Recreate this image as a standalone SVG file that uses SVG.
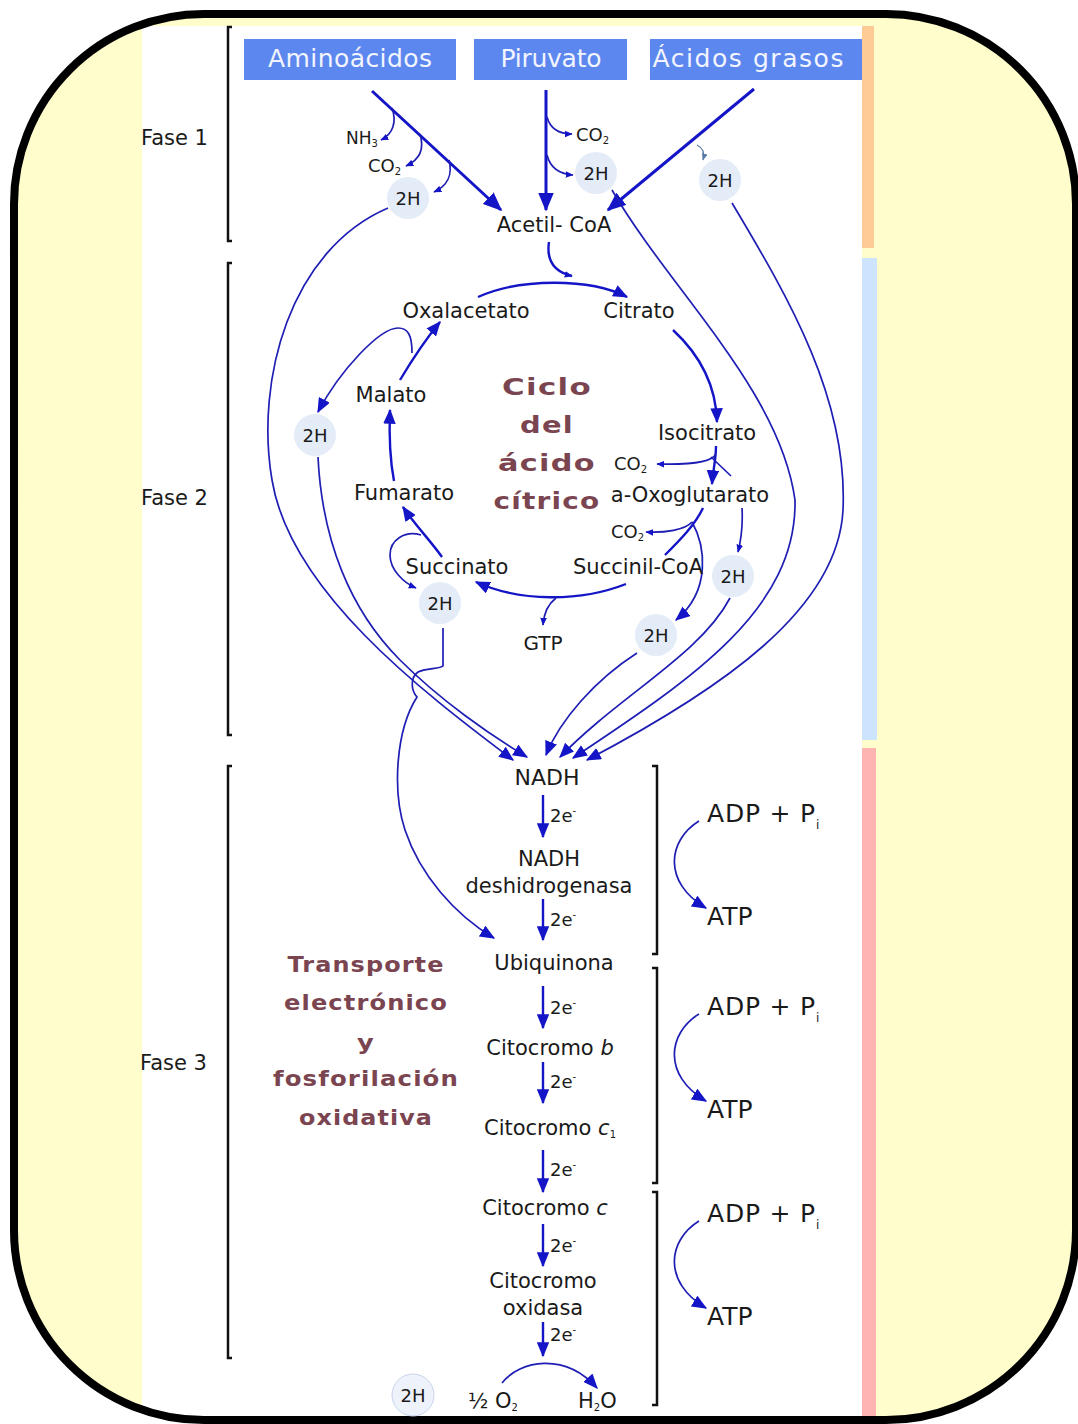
<svg xmlns="http://www.w3.org/2000/svg" width="1078" height="1424" viewBox="0 0 1078 1424">
<defs>
<style>
.lbl{font-family:"DejaVu Sans","Liberation Sans",sans-serif;font-size:21px;fill:#1a1a1a;text-anchor:middle}
.st{text-anchor:start}
.sm{font-size:18px}
.sub{font-size:10px}
.hdr{fill:#5c87ee}
.hdrt{font-family:"DejaVu Sans","Liberation Sans",sans-serif;font-size:25px;fill:#f2f5ff;text-anchor:middle}
.mar{font-family:"DejaVu Sans","Liberation Sans",sans-serif;font-weight:bold;fill:#7a4550;text-anchor:middle;letter-spacing:1px}
.hc{fill:#e4ecf8}
.thick{stroke:#1515c8;stroke-width:3;fill:none}
.mid{stroke:#1515c8;stroke-width:2.4;fill:none}
.thin{stroke:#1e1eb4;stroke-width:1.7;fill:none}
.brk{stroke:#111;stroke-width:2.5;fill:none}
</style>
<marker id="mBig" viewBox="0 0 12 10" refX="11" refY="5" markerWidth="19" markerHeight="16" markerUnits="userSpaceOnUse" orient="auto"><path d="M0,0 L12,5 L0,10 z" fill="#1515c8"/></marker>
<marker id="mMid" viewBox="0 0 12 10" refX="11" refY="5" markerWidth="15" markerHeight="12.5" markerUnits="userSpaceOnUse" orient="auto"><path d="M0,0 L12,5 L0,10 z" fill="#1515c8"/></marker>
<marker id="mSmall" viewBox="0 0 12 10" refX="11" refY="5" markerWidth="8" markerHeight="7" markerUnits="userSpaceOnUse" orient="auto"><path d="M0,0 L12,5 L0,10 z" fill="#1515c8"/></marker>
<marker id="mGrey" viewBox="0 0 12 10" refX="11" refY="5" markerWidth="7" markerHeight="6" markerUnits="userSpaceOnUse" orient="auto"><path d="M0,0 L12,5 L0,10 z" fill="#5a7aa8"/></marker>
</defs>

<!-- page, frame and panels -->
<rect x="0" y="0" width="1078" height="1424" fill="#ffffff"/>
<rect x="14" y="14" width="1062" height="1406" rx="190" ry="190" fill="#fefdcb"/>
<rect x="142" y="26" width="720" height="1398" fill="#ffffff"/>
<rect x="862" y="26" width="12" height="222" fill="#fecb96"/>
<rect x="862" y="258" width="15" height="482" fill="#cce4fe"/>
<rect x="862" y="748" width="14" height="676" fill="#feb4b0"/>
<rect x="14" y="14" width="1062" height="1406" rx="190" ry="190" fill="none" stroke="#000" stroke-width="8"/>

<!-- phase brackets -->
<g id="brackets">
<path class="brk" d="M232,27 L228,27 L228,241 L232,241"/>
<path class="brk" d="M232,263 L228,263 L228,735 L232,735"/>
<path class="brk" d="M232,766 L228,766 L228,1358 L232,1358"/>
<path class="brk" d="M652,766 L657,766 L657,954 L652,954"/>
<path class="brk" d="M652,968 L657,968 L657,1183 L652,1183"/>
<path class="brk" d="M652,1192 L657,1192 L657,1405 L652,1405"/>
</g>

<g id="phase-labels">
<text class="lbl st" x="141" y="145">Fase 1</text>
<text class="lbl st" x="141" y="505">Fase 2</text>
<text class="lbl st" x="140" y="1070">Fase 3</text>
</g>

<!-- sources -->
<g id="aminoacidos"><rect class="hdr" x="244" y="39" width="212" height="41"/><text class="hdrt" x="350" y="67" textLength="164">Aminoácidos</text></g>
<g id="piruvato"><rect class="hdr" x="474" y="39" width="153" height="41"/><text class="hdrt" x="551" y="67" textLength="101">Piruvato</text></g>
<g id="acidos-grasos"><rect class="hdr" x="650" y="39" width="212" height="41"/><text class="hdrt" x="748" y="67" textLength="191">Ácidos grasos</text></g>

<!-- connectors -->
<g id="connectors">
<!-- phase 1 -->
<path class="thick" d="M372,91 L501,210" marker-end="url(#mBig)"/>
<path class="thick" d="M546,90 L546,210" marker-end="url(#mBig)"/>
<path class="thick" d="M754,89 L608,210" marker-end="url(#mBig)"/>
<path class="thin" d="M392,108 C397,122 393,134 381,140" marker-end="url(#mSmall)"/>
<path class="thin" d="M420,134 C425,150 419,160 406,166" marker-end="url(#mSmall)"/>
<path class="thin" d="M449,160 C453,175 447,186 434,192" marker-end="url(#mSmall)"/>
<path class="thin" d="M547,117 C550,128 558,134 572,134" marker-end="url(#mSmall)"/>
<path class="thin" d="M547,155 C550,167 559,174 573,175" marker-end="url(#mSmall)"/>
<path d="M697,145 C703,148 705,153 703,160" stroke="#5a7aa8" stroke-width="1.2" fill="none" marker-end="url(#mGrey)"/>
<path class="mid" d="M549,242 C546,262 555,272 572,276" marker-end="url(#mSmall)"/>

<!-- citric acid cycle -->
<path class="mid" d="M478,297 C520,278 590,278 627,297" marker-end="url(#mMid)"/>
<path class="mid" d="M673,330 C700,355 716,385 717,422" marker-end="url(#mMid)"/>
<path class="mid" d="M716,446 C716,460 713,470 712,484" marker-end="url(#mMid)"/>
<path class="thin" d="M716,454 C712,462 690,465 657,464" marker-end="url(#mSmall)"/>
<path class="thin" d="M711,457 L731,476"/>
<path class="mid" d="M703,508 C695,525 680,540 665,555"/>
<path class="thin" d="M692,522 C685,530 665,533 646,532" marker-end="url(#mSmall)"/>
<path class="thin" d="M692,522 C705,545 712,590 676,620" marker-end="url(#mMid)"/>
<path class="thin" d="M742,508 C743,525 741,540 738,552" marker-end="url(#mSmall)"/>
<path class="mid" d="M626,584 C580,602 520,602 476,582" marker-end="url(#mMid)"/>
<path class="thin" d="M556,598 C548,604 544,612 543,625" marker-end="url(#mSmall)"/>
<path class="mid" d="M442,557 C430,540 415,525 403,507" marker-end="url(#mMid)"/>
<path class="thin" d="M421,535 C405,530 390,540 390,555 C390,570 404,583 416,588" marker-end="url(#mSmall)"/>
<path class="mid" d="M394,481 C390,460 389,435 390,410" marker-end="url(#mMid)"/>
<path class="mid" d="M400,380 C412,360 425,340 440,322" marker-end="url(#mMid)"/>
<path class="thin" d="M412,353 C412,335 408,328 398,328 C380,328 340,370 318,412" marker-end="url(#mMid)"/>

<!-- reduced carriers to NADH -->
<path class="thin" d="M388,208 C290,250 255,380 272,480 C290,590 420,690 513,760" marker-end="url(#mMid)"/>
<path class="thin" d="M318,457 C322,540 350,610 400,660 C440,700 490,735 527,757" marker-end="url(#mMid)"/>
<path class="thin" d="M637,653 C595,680 560,720 546,755" marker-end="url(#mMid)"/>
<path class="thin" d="M730,598 C700,655 620,695 560,757" marker-end="url(#mMid)"/>
<path class="thin" d="M612,190 C670,290 780,390 795,500 C797,610 690,680 573,758" marker-end="url(#mMid)"/>
<path class="thin" d="M732,203 C790,300 848,400 843,510 C838,610 720,690 587,760" marker-end="url(#mMid)"/>
<!-- succinate 2H to ubiquinone, hopping over the crossing lines -->
<path class="thin" d="M443,628 L443,666 C440,669 425,668 418,672 C410,678 411,690 417,697 C396,730 392,790 405,830 C420,875 455,915 494,938" marker-end="url(#mMid)"/>

<!-- electron transport chain -->
<path class="mid" d="M543,795 L543,837" marker-end="url(#mMid)"/>
<path class="mid" d="M543,899 L543,940" marker-end="url(#mMid)"/>
<path class="mid" d="M543,986 L543,1028" marker-end="url(#mMid)"/>
<path class="mid" d="M543,1062 L543,1103" marker-end="url(#mMid)"/>
<path class="mid" d="M543,1150 L543,1192" marker-end="url(#mMid)"/>
<path class="mid" d="M543,1224 L543,1266" marker-end="url(#mMid)"/>
<path class="mid" d="M543,1322 L543,1356" marker-end="url(#mMid)"/>
<path class="thin" d="M502,1383 C520,1360 565,1352 597,1388" marker-end="url(#mMid)"/>

<!-- ADP + Pi to ATP -->
<path class="thin" d="M699,821 C668,840 662,882 706,908" marker-end="url(#mMid)"/>
<path class="thin" d="M699,1014 C668,1033 662,1075 706,1101" marker-end="url(#mMid)"/>
<path class="thin" d="M699,1221 C668,1240 662,1282 706,1308" marker-end="url(#mMid)"/>
</g>

<!-- phase 1 nodes -->
<g id="nh3"><text class="lbl st sm" x="346" y="144" style="font-size:17px">NH<tspan class="sub" dy="3">3</tspan></text></g>
<g id="co2-aa"><text class="lbl st sm" x="368" y="172" style="font-size:18px">CO<tspan class="sub" dy="3">2</tspan></text></g>
<g id="co2-pir"><text class="lbl st sm" x="576" y="141">CO<tspan class="sub" dy="3">2</tspan></text></g>
<g id="h2-aa"><circle class="hc" cx="408" cy="198" r="21"/><text class="lbl sm" x="408" y="205">2H</text></g>
<g id="h2-pir"><circle class="hc" cx="596" cy="173" r="21"/><text class="lbl sm" x="596" y="180">2H</text></g>
<g id="h2-ag"><circle class="hc" cx="720" cy="180" r="21"/><text class="lbl sm" x="720" y="187">2H</text></g>
<g id="acetil-coa"><text class="lbl" x="554" y="232">Acetil- CoA</text></g>

<!-- cycle nodes -->
<g id="oxalacetato"><text class="lbl" x="466" y="318">Oxalacetato</text></g>
<g id="citrato"><text class="lbl" x="639" y="318">Citrato</text></g>
<g id="isocitrato"><text class="lbl" x="707" y="440">Isocitrato</text></g>
<g id="co2-iso"><text class="lbl st sm" x="614" y="470">CO<tspan class="sub" dy="3">2</tspan></text></g>
<g id="oxoglutarato"><text class="lbl" x="690" y="502">a-Oxoglutarato</text></g>
<g id="co2-oxo"><text class="lbl st sm" x="611" y="538">CO<tspan class="sub" dy="3">2</tspan></text></g>
<g id="succinil-coa"><text class="lbl" x="638" y="574">Succinil-CoA</text></g>
<g id="gtp"><text class="lbl" x="543" y="650" style="font-size:20px">GTP</text></g>
<g id="succinato"><text class="lbl" x="457" y="574">Succinato</text></g>
<g id="fumarato"><text class="lbl" x="404" y="500">Fumarato</text></g>
<g id="malato"><text class="lbl" x="391" y="402">Malato</text></g>
<g id="h2-mal"><circle class="hc" cx="315" cy="435" r="21"/><text class="lbl sm" x="315" y="442">2H</text></g>
<g id="h2-suc"><circle class="hc" cx="440" cy="603" r="21"/><text class="lbl sm" x="440" y="610">2H</text></g>
<g id="h2-oxo"><circle class="hc" cx="656" cy="635" r="21"/><text class="lbl sm" x="656" y="642">2H</text></g>
<g id="h2-iso"><circle class="hc" cx="733" cy="576" r="21"/><text class="lbl sm" x="733" y="583">2H</text></g>
<g id="cycle-title">
<text class="mar" x="547" y="395" style="font-size:23px" textLength="90" lengthAdjust="spacingAndGlyphs">Ciclo</text>
<text class="mar" x="547" y="433" style="font-size:23px" textLength="54" lengthAdjust="spacingAndGlyphs">del</text>
<text class="mar" x="547" y="471" style="font-size:23px" textLength="98" lengthAdjust="spacingAndGlyphs">ácido</text>
<text class="mar" x="547" y="509" style="font-size:23px" textLength="107" lengthAdjust="spacingAndGlyphs">cítrico</text>
</g>

<!-- electron transport nodes -->
<g id="nadh"><text class="lbl" x="547" y="785" style="font-size:22px">NADH</text></g>
<g id="nadh-dh"><text class="lbl" x="549" y="866">NADH</text><text class="lbl" x="549" y="893">deshidrogenasa</text></g>
<g id="ubiquinona"><text class="lbl" x="554" y="970">Ubiquinona</text></g>
<g id="cit-b"><text class="lbl" x="550" y="1055">Citocromo <tspan font-style="italic">b</tspan></text></g>
<g id="cit-c1"><text class="lbl" x="550" y="1135">Citocromo <tspan font-style="italic">c</tspan><tspan class="sub" dy="3">1</tspan></text></g>
<g id="cit-c"><text class="lbl" x="545" y="1215">Citocromo <tspan font-style="italic">c</tspan></text></g>
<g id="cit-ox"><text class="lbl" x="543" y="1288">Citocromo</text><text class="lbl" x="543" y="1315">oxidasa</text></g>
<g id="o2"><text class="lbl st" x="468" y="1408">½ O<tspan class="sub" dy="3">2</tspan></text></g>
<g id="h2o"><text class="lbl st" x="578" y="1408">H<tspan class="sub" dy="3">2</tspan><tspan dy="-3">O</tspan></text></g>
<g id="h2-final"><circle cx="413" cy="1395" r="21" fill="#eef3fb" stroke="#c9d5ea" stroke-width="1"/><text class="lbl sm" x="413" y="1402">2H</text></g>
<g id="electron-labels">
<text class="lbl st sm" x="550" y="822">2e<tspan class="sub" dy="-8">-</tspan></text>
<text class="lbl st sm" x="550" y="926">2e<tspan class="sub" dy="-8">-</tspan></text>
<text class="lbl st sm" x="550" y="1014">2e<tspan class="sub" dy="-8">-</tspan></text>
<text class="lbl st sm" x="550" y="1088">2e<tspan class="sub" dy="-8">-</tspan></text>
<text class="lbl st sm" x="550" y="1176">2e<tspan class="sub" dy="-8">-</tspan></text>
<text class="lbl st sm" x="550" y="1252">2e<tspan class="sub" dy="-8">-</tspan></text>
<text class="lbl st sm" x="550" y="1341">2e<tspan class="sub" dy="-8">-</tspan></text>
</g>
<g id="etc-title">
<text class="mar" x="366" y="972" style="font-size:22px" textLength="157" lengthAdjust="spacingAndGlyphs">Transporte</text>
<text class="mar" x="366" y="1010" style="font-size:22px" textLength="164" lengthAdjust="spacingAndGlyphs">electrónico</text>
<text class="mar" x="366" y="1050" style="font-size:22px" textLength="18" lengthAdjust="spacingAndGlyphs">y</text>
<text class="mar" x="366" y="1086" style="font-size:22px" textLength="186" lengthAdjust="spacingAndGlyphs">fosforilación</text>
<text class="mar" x="366" y="1125" style="font-size:22px" textLength="134" lengthAdjust="spacingAndGlyphs">oxidativa</text>
</g>

<!-- phosphorylation -->
<g id="adp-1"><text class="lbl st" x="707" y="822" style="font-size:25px" textLength="108">ADP + P</text><text class="lbl st" x="816" y="829" style="font-size:12px">i</text></g>
<g id="atp-1"><text class="lbl st" x="707" y="925" style="font-size:25px">ATP</text></g>
<g id="adp-2"><text class="lbl st" x="707" y="1015" style="font-size:25px" textLength="108">ADP + P</text><text class="lbl st" x="816" y="1022" style="font-size:12px">i</text></g>
<g id="atp-2"><text class="lbl st" x="707" y="1118" style="font-size:25px">ATP</text></g>
<g id="adp-3"><text class="lbl st" x="707" y="1222" style="font-size:25px" textLength="108">ADP + P</text><text class="lbl st" x="816" y="1229" style="font-size:12px">i</text></g>
<g id="atp-3"><text class="lbl st" x="707" y="1325" style="font-size:25px">ATP</text></g>
</svg>
